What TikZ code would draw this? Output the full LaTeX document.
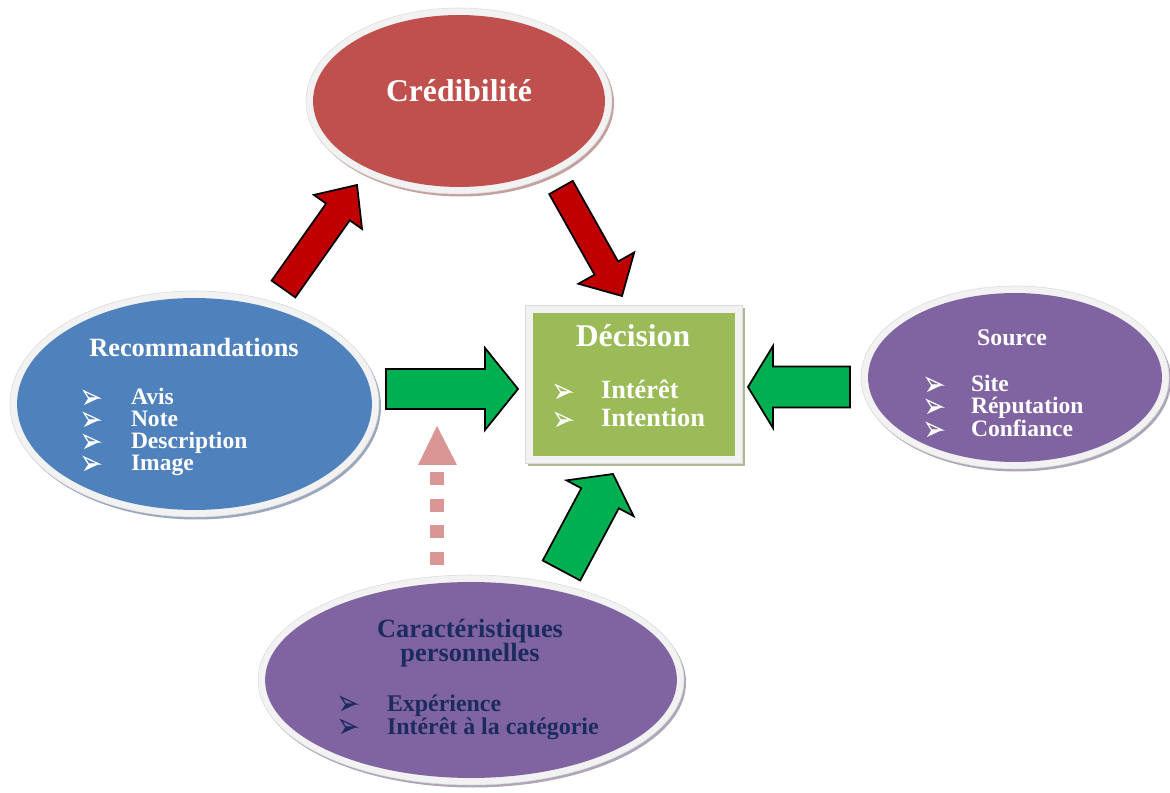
\documentclass[tikz,border=0pt]{standalone}
\usepackage{fontspec}
\setmainfont{Liberation Serif}
\usetikzlibrary{calc,shapes.geometric}

\definecolor{credred}{HTML}{C0504D}
\definecolor{recblue}{HTML}{4F81BD}
\definecolor{ovalpurple}{HTML}{8064A2}
\definecolor{decgreen}{HTML}{9BBB59}
\definecolor{rimgray}{HTML}{F2F2F2}
\definecolor{rimedge}{HTML}{DADADA}
\definecolor{arrowred}{HTML}{C00000}
\definecolor{arrowgreen}{HTML}{00B050}
\definecolor{navytext}{HTML}{1C2B5E}
\definecolor{dashpink}{HTML}{D99694}
\definecolor{shredred}{HTML}{C4A09E}
\definecolor{shblue}{HTML}{9AA7BC}
\definecolor{shpurple}{HTML}{ADA5B8}
\definecolor{shgreen}{HTML}{B0BA98}

% block arrow: style, tail, tip, shaft half width, head half width, head length
\newcommand\blockarrow[6]{%
  \coordinate (ba-h) at ($(#3)!#6!(#2)$);
  \filldraw[#1] ($(#2)!#4!90:(#3)$) -- ($(ba-h)!#4!-90:(#2)$)
    -- ($(ba-h)!#5!-90:(#2)$) -- (#3) -- ($(ba-h)!#5!90:(#2)$)
    -- ($(ba-h)!#4!90:(#2)$) -- ($(#2)!#4!-90:(#3)$) -- cycle;}

% oval with rim and shadow: name, centre, x radius, y radius, fill, shadow colour
\newcommand\rimoval[6]{%
  \fill[#6] ($(#2)+(2,2.5)$) ellipse [x radius=#3+7, y radius=#4+7];
  \filldraw[rimgray, draw=rimedge, line width=0.3pt] (#2) ellipse [x radius=#3+7, y radius=#4+7];
  \node[oval, fill=#5, minimum width=#3*0.04cm, minimum height=#4*0.04cm] (#1) at (#2) {};}

% one list line: name, bullet x, text x, baseline y, text
\newcommand\listline[5]{%
  \pic[bulcolor] at (#2,#4) {arrowbullet};
  \node[itemnode] (#1) at (#3,#4) {#5};}

\tikzset{
  oval/.style={ellipse, inner sep=0pt, outer sep=0pt},
  redarrow/.style={fill=arrowred, draw=black, line width=1pt, line join=miter},
  greenarrow/.style={fill=arrowgreen, draw=black, line width=1pt, line join=miter},
  title/.style={inner sep=0pt, outer sep=0pt, anchor=base, text=white},
  bulcolor/.style={white},
  itemnode/.style={inner sep=0pt, outer sep=0pt, anchor=base west, text=white,
    font=\fontsize{13.4}{14}\selectfont\bfseries},
  % arrowhead bullet: hollow upper half, solid lower half
  arrowbullet/.pic={
    \fill (0,0) -- (4.5,-7) -- (15,-7) -- cycle;
    \draw[line width=0.7pt, line join=miter] (0,-14) -- (15,-7) -- (4.5,-7) -- cycle;
  },
}

\begin{document}
\begin{tikzpicture}[x=0.02cm, y=-0.02cm]
\useasboundingbox (0,0) rectangle (1170,793);

% ovals
\rimoval{cred}{459,101}{146}{86}{credred}{shredred}
\rimoval{rec}{194.5,404}{177.5}{106}{recblue}{shblue}
\rimoval{src}{1015,377.5}{147}{84.5}{ovalpurple}{shpurple}
\rimoval{car}{471,680}{206}{98}{ovalpurple}{shpurple}

% decision box
\fill[shgreen] (528,308) rectangle (745,466);
\filldraw[rimgray, draw=rimedge, line width=0.3pt] (525,305) rectangle (742,463);
\node[rectangle, inner sep=0pt, outer sep=0pt, fill=decgreen,
  minimum width=4.04cm, minimum height=2.86cm] (dec) at (634,384.5) {};

% titles
\node[title, font=\fontsize{18}{20}\selectfont\bfseries] (credt) at (459,102) {Crédibilité};
\node[title, font=\fontsize{15}{16}\selectfont\bfseries] (rect) at (194,357) {Recommandations};
\node[title, font=\fontsize{18}{20}\selectfont\bfseries] (dect) at (633,347) {Décision};
\node[title, font=\fontsize{13.6}{15}\selectfont\bfseries] (srct) at (1012,346) {Source};
\node[title, text=navytext, font=\fontsize{15}{16}\selectfont\bfseries] (cart1) at (470,638) {Caractéristiques};
\node[title, text=navytext, font=\fontsize{15}{16}\selectfont\bfseries] (cart2) at (470,662) {personnelles};

% lists
\listline{rec1}{84}{131}{405}{Avis}
\listline{rec2}{84}{131}{427}{Note}
\listline{rec3}{84}{131}{449}{Description}
\listline{rec4}{84}{131}{471}{Image}

\begin{scope}[itemnode/.append style={font=\fontsize{15}{16}\selectfont\bfseries}]
\listline{dec1}{556}{601}{399}{Intérêt}
\listline{dec2}{556}{601}{427}{Intention}
\end{scope}

\listline{src1}{927}{971}{392}{Site}
\listline{src2}{927}{971}{414}{Réputation}
\listline{src3}{927}{971}{437}{Confiance}

\begin{scope}[itemnode/.append style={text=navytext, font=\fontsize{13.6}{15}\selectfont\bfseries},
  bulcolor/.style={navytext}]
\listline{car1}{341}{387}{711}{Expérience}
\listline{car2}{341}{387}{734}{Intérêt à la catégorie}
\end{scope}

% block arrows
\coordinate (r1tail) at (283.5,289); \coordinate (r1tip) at (357,185);
\coordinate (r2tail) at (561,187.5); \coordinate (r2tip) at (622,296);
\coordinate (g1tail) at (386,389);   \coordinate (g1tip) at (518,389);
\coordinate (g2tail) at (850,387);   \coordinate (g2tip) at (748,387);
\coordinate (g3tail) at (561.5,570.5); \coordinate (g3tip) at (613,474);
\blockarrow{redarrow}{r1tail}{r1tip}{0.29cm}{0.59cm}{0.66cm}
\blockarrow{redarrow}{r2tail}{r2tip}{0.27cm}{0.64cm}{0.64cm}
\blockarrow{greenarrow}{g1tail}{g1tip}{0.40cm}{0.82cm}{0.66cm}
\blockarrow{greenarrow}{g2tail}{g2tip}{0.41cm}{0.82cm}{0.50cm}
\blockarrow{greenarrow}{g3tail}{g3tip}{0.425cm}{0.76cm}{0.55cm}

% dotted influence arrow
\coordinate (pfoot) at (437,565);
\coordinate (ptop) at (437,472);
\draw[dashpink, line width=0.28cm, dash pattern=on 7.4pt off 7.8pt] (pfoot) -- (ptop);
\fill[dashpink] (437,426) -- (457,465) -- (418,465) -- cycle;

\end{tikzpicture}
\end{document}
